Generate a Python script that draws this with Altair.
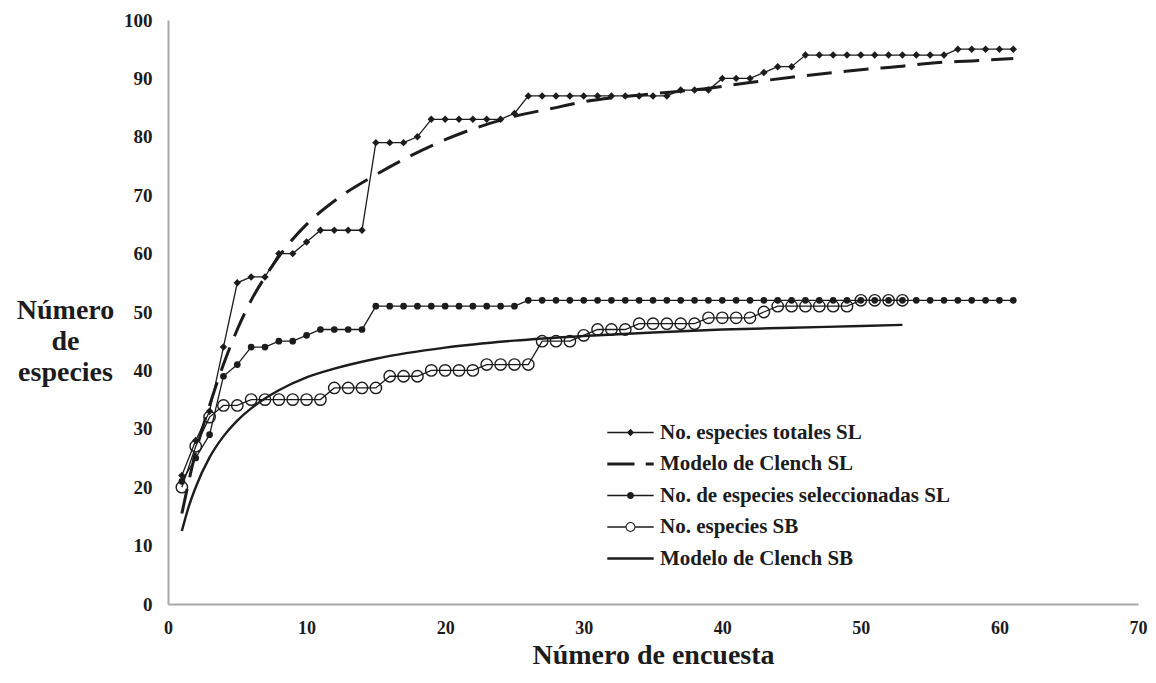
import altair as alt
import pandas as pd

# ---------------- data ----------------
x_sl = list(range(1, 62))
totales_sl = [22, 28, 33, 44, 55, 56, 56, 60, 60, 62, 64, 64, 64, 64,
              79, 79, 79, 80, 83, 83, 83, 83, 83, 83, 84,
              87, 87, 87, 87, 87, 87, 87, 87, 87, 87, 87,
              88, 88, 88, 90, 90, 90, 91, 92, 92,
              94, 94, 94, 94, 94, 94, 94, 94, 94, 94, 94,
              95, 95, 95, 95, 95]
seleccionadas_sl = [21, 25, 29, 39, 41, 44, 44, 45, 45, 46,
                    47, 47, 47, 47,
                    51, 51, 51, 51, 51, 51, 51, 51, 51, 51, 51] + [52] * 36
x_sb = list(range(1, 54))
especies_sb = [20, 27, 32, 34, 34, 35, 35, 35, 35, 35, 35,
               37, 37, 37, 37, 39, 39, 39, 40, 40, 40, 40,
               41, 41, 41, 41, 45, 45, 45, 46, 47, 47, 47,
               48, 48, 48, 48, 48, 49, 49, 49, 49, 50,
               51, 51, 51, 51, 51, 51, 52, 52, 52, 52]
clench_sl_x = [1, 2, 3, 4, 5, 6, 7, 8, 10, 12, 15, 20, 25, 28, 30, 33, 36, 39,
               42, 45, 48, 50, 53, 55, 58, 61]
clench_sl_y = [15.5, 26, 34, 41, 47, 52, 56, 59.5, 65, 69, 73.5, 79.5, 83.5, 85,
               86, 86.9, 87.6, 88.3, 89.3, 90.2, 91.0, 91.5, 92.1, 92.6, 93.0, 93.4]
clench_sb_x = [1, 1.5, 2, 3, 4, 5, 6, 7, 8, 10, 12, 15, 20, 25, 30, 35, 40, 45, 50, 53]
clench_sb_y = [12.5, 16.7, 20.0, 25.1, 28.7, 31.4, 33.5, 35.2, 36.6, 38.8, 40.3,
               42.0, 43.9, 45.1, 45.9, 46.5, 47.0, 47.3, 47.6, 47.8]

legend_names = ["No. especies totales SL", "Modelo de Clench SL",
                "No. de especies seleccionadas SL", "No. especies SB",
                "Modelo de Clench SB"]
x_ticks = [0, 10, 20, 30, 40, 50, 60, 70]
y_ticks = [0, 10, 20, 30, 40, 50, 60, 70, 80, 90, 100]

# ---------------- styling ----------------
INK = "#1c1c1c"
FONT = "Liberation Serif"

legend_paths = [
    "M-2.9,-0.08H2.9V0.08H-2.9ZM0,-0.46L0.46,0L0,0.46L-0.46,0Z",
    "M-2.9,-0.19H0.5V0.19H-2.9ZM1.9,-0.19H2.9V0.19H1.9Z",
    "M-2.9,-0.08H2.9V0.08H-2.9ZM0.44,0A0.44,0.44,0,1,1,-0.44,0A0.44,0.44,0,1,1,0.44,0Z",
    "M-2.9,-0.08H-0.62V0.08H-2.9ZM0.62,-0.08H2.9V0.08H0.62Z"
    "M0.62,0A0.62,0.62,0,1,1,-0.62,0A0.62,0.62,0,1,1,0.62,0Z"
    "M0.49,0A0.49,0.49,0,1,0,-0.49,0A0.49,0.49,0,1,0,0.49,0Z",
    "M-2.9,-0.16H2.9V0.16H-2.9Z",
]

xs = alt.X("x:Q", scale=alt.Scale(domain=[0, 70], nice=False),
           axis=alt.Axis(values=x_ticks, title="Número de encuesta", labelFlush=False,
                         labelFontSize=18, labelPadding=15, titlePadding=4))
ys = alt.Y("y:Q", scale=alt.Scale(domain=[0, 100], nice=False),
           axis=alt.Axis(values=y_ticks, title=["Número", "de", "especies"],
                         titleAngle=0, titleAlign="center", titleBaseline="top",
                         titleX=-103, titleY=276, titleLineHeight=31, labelFlush=False,
                         labelFontSize=19, labelPadding=16))


def frame(x, y):
    return pd.DataFrame({"x": x, "y": y})


tot = alt.Chart(frame(x_sl, totales_sl))
sel = alt.Chart(frame(x_sl, seleccionadas_sl))
sb = alt.Chart(frame(x_sb, especies_sb))

layers = [
    alt.Chart(frame(clench_sb_x, clench_sb_y)).mark_line(
        color=INK, strokeWidth=2.4, interpolate="monotone").encode(x=xs, y=ys),
    alt.Chart(frame(clench_sl_x, clench_sl_y)).mark_line(
        color=INK, strokeWidth=3, strokeDash=[25, 12], interpolate="monotone").encode(x=xs, y=ys),
    tot.mark_line(color=INK, strokeWidth=1.3).encode(x=xs, y=ys),
    sel.mark_line(color=INK, strokeWidth=1.3).encode(x=xs, y=ys),
    sb.mark_line(color=INK, strokeWidth=1.3).encode(x=xs, y=ys),
    tot.mark_point(shape="diamond", filled=True, color=INK, size=55, opacity=1).encode(x=xs, y=ys),
    sel.mark_point(shape="circle", filled=True, color=INK, size=45, opacity=1).encode(x=xs, y=ys),
    sb.mark_point(shape="circle", filled=False, color=INK, size=130, strokeWidth=1.4,
                  opacity=1).encode(x=xs, y=ys),
    alt.Chart(pd.DataFrame({"serie": legend_names})).mark_point(
        filled=True, color=INK, clip=True, size=256, opacity=1).encode(
        x=alt.value(-300), y=alt.value(-300),
        shape=alt.Shape("serie:N",
                        scale=alt.Scale(domain=legend_names, range=legend_paths),
                        legend=alt.Legend(title=None, orient="none", legendX=452, legendY=402,
                                          symbolSize=256, symbolFillColor=INK,
                                          symbolStrokeWidth=0, labelFont=FONT,
                                          labelFontSize=21, labelFontWeight="bold",
                                          labelColor=INK, labelOffset=19, rowPadding=9.5,
                                          padding=0, labelLimit=500))),
]

chart = alt.layer(*layers).properties(
    width=970, height=584,
    autosize=alt.AutoSizeParams(type="none"),
    padding={"left": 160, "top": 12, "right": 10, "bottom": 70},
).configure_view(strokeWidth=0).configure_axis(
    domainColor="#a8a8a8", domainWidth=2, ticks=False, grid=False,
    labelFont=FONT, labelFontWeight="bold", labelColor=INK,
    titleFont=FONT, titleFontSize=28, titleFontWeight="bold",
    titleColor=INK,
)

chart.save("out.html", embed_options={"renderer": "svg", "actions": False})
